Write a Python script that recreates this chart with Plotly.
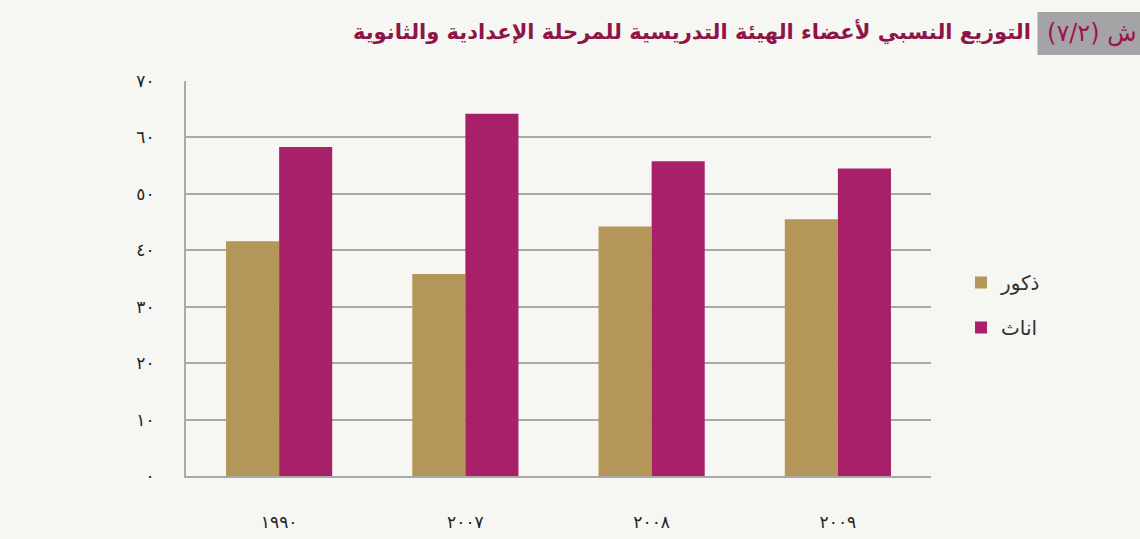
import plotly.graph_objects as go

years = ["١٩٩٠", "٢٠٠٧", "٢٠٠٨", "٢٠٠٩"]
males = [41.6, 35.8, 44.2, 45.5]
females = [58.3, 64.2, 55.8, 54.5]
y_tickvals = [0, 10, 20, 30, 40, 50, 60, 70]
y_ticktext = ["٠", "١٠", "٢٠", "٣٠", "٤٠", "٥٠", "٦٠", "٧٠"]
male_name = "ذكور"
female_name = "اناث"
title_main = "التوزيع النسبي لأعضاء الهيئة التدريسية للمرحلة الإعدادية والثانوية"
title_box = "\u200fش (٧/٢)\u200f"

gold = "#b39658"
magenta = "#a8206a"
bg = "#f6f6f2"
grid = "#a9a9a9"
font_fam = "DejaVu Sans, Noto Sans, sans-serif"

fig = go.Figure()
fig.add_trace(go.Bar(x=years, y=males, name=male_name, marker=dict(color=gold, line=dict(width=0)),
                     legendgroup="m"))
fig.add_trace(go.Bar(x=years, y=females, name=female_name, marker=dict(color=magenta, line=dict(width=0)),
                     legendgroup="f"))

PH = 539 - 81 - 63
fig.update_layout(
    width=1140, height=539,
    paper_bgcolor=bg, plot_bgcolor=bg,
    margin=dict(l=186, r=209, t=81, b=63, autoexpand=False),
    barmode="group", bargap=0.43, bargroupgap=0,
    font=dict(family=font_fam, color="#222"),
    showlegend=True,
    legend=dict(x=(961 - 186) / 745, y=(476 - 305) / PH, xanchor="left", yanchor="middle",
                font=dict(size=20, color="#333", family=font_fam),
                bgcolor="rgba(0,0,0,0)", tracegroupgap=16, traceorder="grouped",
                itemwidth=30),
    xaxis=dict(showgrid=False, showline=True, linecolor=grid, linewidth=2,
               ticks="", ticklabelstandoff=30, tickfont=dict(size=17, color="#222"),
               zeroline=False),
    yaxis=dict(range=[0, 70], tickvals=y_tickvals, ticktext=y_ticktext,
               showgrid=True, gridcolor=grid, gridwidth=2,
               showline=True, linecolor=grid, linewidth=2,
               ticks="", ticklabelstandoff=26, tickfont=dict(size=17, color="#222"),
               zeroline=False),
    shapes=[dict(type="rect", xref="paper", yref="paper",
                 x0=(1037.5 - 186) / 745, x1=(1141 - 186) / 745,
                 y0=(476 - 55) / PH, y1=(476 - 12) / PH,
                 fillcolor="#a4a4a7", line=dict(width=0), layer="below")],
    annotations=[
        dict(text=title_box, xref="paper", yref="paper",
             x=(1139 - 186) / 745, y=(476 - 33) / PH,
             xanchor="right", yanchor="middle", showarrow=False,
             font=dict(size=24, color="#9c1450", family=font_fam)),
        dict(text="<b>" + title_main + "</b>", xref="paper", yref="paper",
             x=(1033 - 186) / 745, y=(476 - 31) / PH,
             xanchor="right", yanchor="middle", showarrow=False,
             font=dict(size=21, color="#8f1447", family=font_fam)),
    ],
)

fig.write_html("out.html", config={"displayModeBar": False},
               post_script="document.body.style.margin='0';document.body.style.overflow='hidden';")
